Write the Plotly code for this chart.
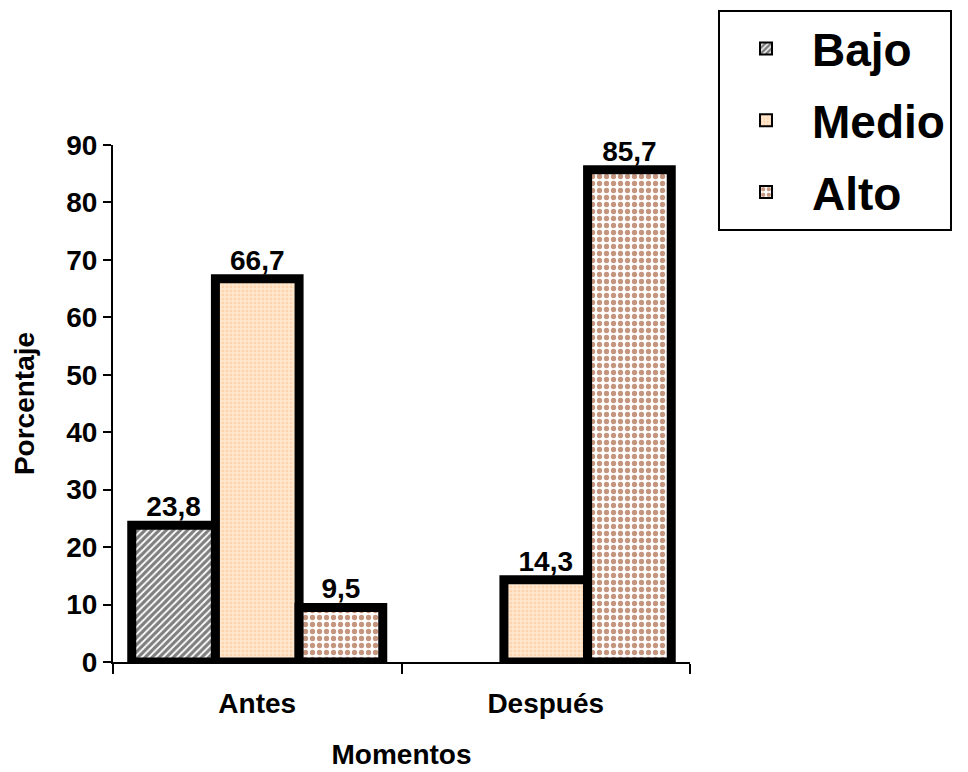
import plotly.graph_objects as go

categories = ["Antes", "Después"]
bajo = [23.8, None]
medio = [66.7, 14.3]
alto = [9.5, 85.7]
series_names = ["Bajo", "Medio", "Alto"]
y_ticks = [0, 10, 20, 30, 40, 50, 60, 70, 80, 90]

FONT = "Arial, 'Liberation Sans', sans-serif"
FS = 28
W, H = 960, 764  # page body has an 8px default margin

def fmt(v):
    return "" if v is None else f"{v:.1f}".replace(".", ",")

styles = {
    "Bajo": dict(shape="/", bgcolor="white", fgcolor="black", size=5, solidity=0.65),
    "Medio": dict(shape=".", bgcolor="#FFE6CC", fgcolor="#FBC08A", size=4, solidity=0.3),
    "Alto": dict(shape=".", bgcolor="white", fgcolor="#8B2E00", size=7, solidity=0.45),
}

fig = go.Figure()
for name, vals in zip(series_names, [bajo, medio, alto]):
    fig.add_trace(go.Bar(
        name=name, x=categories, y=vals, legendgroup=name,
        text=[fmt(v) for v in vals], textposition="outside",
        textfont=dict(family=FONT, size=FS, color="black", weight="bold"),
        cliponaxis=False,
        marker=dict(color=styles[name]["bgcolor"], pattern=styles[name],
                    line=dict(color="black", width=9)),
    ))

fig.update_layout(
    width=W, height=H,
    paper_bgcolor="white", plot_bgcolor="white",
    barmode="group", bargap=0.13, bargroupgap=0,
    margin=dict(l=105, r=278, t=137, b=110, autoexpand=False),
    font=dict(family=FONT, size=FS, color="black"),
    showlegend=True,
    legend=dict(x=710 / W, xref="container", y=1 - 2 / H, yref="container",
                yanchor="top", xanchor="left",
                bgcolor="white", bordercolor="black", borderwidth=2,
                font=dict(family=FONT, size=46, color="black", weight="bold"),
                itemsizing="constant", itemwidth=82, tracegroupgap=9),
    uniformtext=dict(mode=False),
)
fig.update_xaxes(
    type="category", tickson="boundaries", ticks="outside", ticklen=10, tickwidth=2,
    tickcolor="black", showline=True, linecolor="black", linewidth=2,
    tickfont=dict(family=FONT, size=FS, color="black", weight="bold"),
    ticklabelstandoff=15,
    title=dict(text="Momentos", font=dict(family=FONT, size=FS, weight="bold"), standoff=27),
    showgrid=False, automargin=False,
)
fig.update_yaxes(
    range=[0, 90], tickvals=y_ticks, ticks="outside", ticklen=8, tickwidth=2,
    tickcolor="black", showline=True, linecolor="black", linewidth=2,
    tickfont=dict(family=FONT, size=FS, color="black", weight="bold"),
    title=dict(text="Porcentaje", font=dict(family=FONT, size=FS, weight="bold"), standoff=23),
    showgrid=False, zeroline=False, automargin=False,
)

fig.write_html("out.html")
